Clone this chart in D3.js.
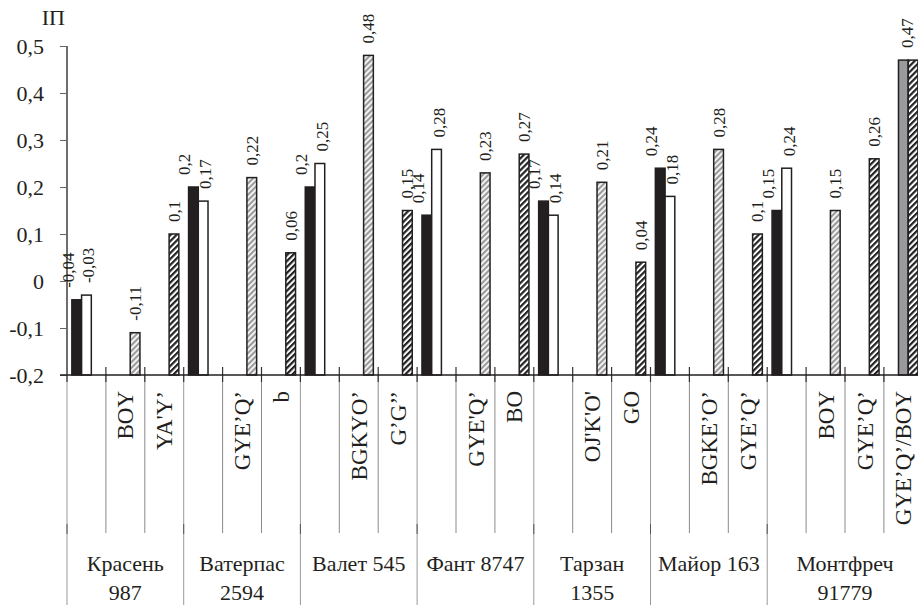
<!DOCTYPE html>
<html><head><meta charset="utf-8">
<script src="https://cdn.jsdelivr.net/npm/d3@7"></script>
<style>
html,body{margin:0;padding:0;background:#fff;}
svg{display:block;}
svg text{font-family:"Liberation Serif","Times New Roman",serif;}
</style></head>
<body>
<svg id="chart" width="918" height="605"></svg>
<script>
// ---- data ----
const groupNames = [["Красень","987"],["Ватерпас","2594"],["Валет 545"],["Фант 8747"],["Тарзан","1355"],["Майор 163"],["Монтфреч","91779"]];
const slotLabels = [
  ["", "BOY", "YA'Y’"],
  ["", "GYE’Q’", "b"],
  ["", "BGKYO’", "G’G’’"],
  ["", "GYE'Q’", "BO"],
  ["", "OJ'K'O'", "GO"],
  ["", "BGKE’O’", "GYE’Q’"],
  ["", "BOY", "GYE’Q’", "GYE’Q’/BOY"]
];
const blackValues = [-0.04, 0.2, 0.2, 0.14, 0.17, 0.24, 0.15];
const whiteValues = [-0.03, 0.17, 0.25, 0.28, 0.14, 0.18, 0.24];
const lightHatchValues = [-0.11, 0.22, 0.48, 0.23, 0.21, 0.28, 0.15];
const darkHatchValues = [0.1, 0.06, 0.15, 0.27, 0.04, 0.1, 0.26];
const extraGrayValues = [0.47];
const extraDarkValues = [0.47];
const yTicks = [-0.2, -0.1, 0, 0.1, 0.2, 0.3, 0.4, 0.5];
const yLabel = "ІП";

(function () {
const FONT = "'Liberation Serif','Times New Roman',serif";
// ---- build slots and bars ----
const slots = [];
slotLabels.forEach((labs, g) => labs.forEach((l, s) => slots.push({id: g + "-" + s, g, s, label: l})));
const bars = [];
groupNames.forEach((_, g) => {
  bars.push({slot: g + "-0", pos: 0, v: blackValues[g], style: "black", lab: true, dx: -9});
  bars.push({slot: g + "-0", pos: 1, v: whiteValues[g], style: "white", lab: true, dx: 2});
  bars.push({slot: g + "-1", pos: 2, v: lightHatchValues[g], style: "light", lab: true, dx: 0});
  bars.push({slot: g + "-2", pos: 2, v: darkHatchValues[g], style: "dark", lab: true, dx: 0});
});
bars.push({slot: "6-3", pos: 1, v: extraGrayValues[0], style: "gray", lab: false, dx: 0});
bars.push({slot: "6-3", pos: 2, v: extraDarkValues[0], style: "dark", lab: true, dx: -6});

// ---- layout ----
const svg = d3.select("#chart");
const left = 67, slotW = 38.9;
const plotTop = 46, plotBottom = 375;
const x = d3.scaleBand().domain(slots.map(d => d.id)).range([left, left + slots.length * slotW]).padding(0);
const inner = d3.scaleBand().domain([0, 1, 2]).range([0, x.bandwidth()]).paddingInner(0).paddingOuter(0.5);
const y = d3.scaleLinear().domain([-0.2, 0.5]).range([plotBottom, plotTop]);
const fmt = v => String(v).replace(".", ",");

// patterns
const defs = svg.append("defs");
const p1 = defs.append("pattern").attr("id", "light").attr("patternUnits", "userSpaceOnUse")
  .attr("width", 4).attr("height", 4).attr("patternTransform", "rotate(45)");
p1.append("rect").attr("width", 4).attr("height", 4).attr("fill", "#f2f2f2");
p1.append("rect").attr("width", 2).attr("height", 4).attr("fill", "#9a9a9a");
const p2 = defs.append("pattern").attr("id", "dark").attr("patternUnits", "userSpaceOnUse")
  .attr("width", 4.2).attr("height", 4).attr("patternTransform", "rotate(45)");
p2.append("rect").attr("width", 4.2).attr("height", 4).attr("fill", "#fff");
p2.append("rect").attr("width", 2.2).attr("height", 4).attr("fill", "#222");

const fills = {black: "#231f20", white: "#fff", light: "url(#light)", dark: "url(#dark)", gray: "#9a9a9c"};

// bottom table lines
const boundaries = slots.map(d => ({x: x(d.id), group: d.s === 0}));
svg.append("g").selectAll("line").data(boundaries).join("line")
  .attr("x1", d => d.x).attr("x2", d => d.x)
  .attr("y1", plotBottom).attr("y2", d => d.group ? 605 : 533)
  .attr("stroke", d => d.group ? "#9a9a9a" : "#8a8a8a").attr("stroke-width", 1);
svg.append("g").selectAll("line").data(boundaries.filter(d => d.group)).join("line")
  .attr("x1", d => d.x).attr("x2", d => d.x).attr("y1", 524).attr("y2", 534)
  .attr("stroke", "#555").attr("stroke-width", 1);
// ticks crossing x axis
svg.append("g").selectAll("line").data(boundaries.slice(1).concat([{x: left + slots.length * slotW}])).join("line")
  .attr("x1", d => d.x).attr("x2", d => d.x).attr("y1", plotBottom - 8).attr("y2", plotBottom + 7)
  .attr("stroke", "#333").attr("stroke-width", 1.2);
svg.append("line").attr("x1", left).attr("x2", left).attr("y1", plotBottom).attr("y2", plotBottom + 7)
  .attr("stroke", "#333").attr("stroke-width", 1.2);

// bars
svg.append("g").selectAll("rect").data(bars).join("rect")
  .attr("x", d => x(d.slot) + inner(d.pos))
  .attr("width", inner.bandwidth())
  .attr("y", d => y(d.v))
  .attr("height", d => y(-0.2) - y(d.v))
  .attr("fill", d => fills[d.style])
  .attr("stroke", "#231f20").attr("stroke-width", 1.5);

// value labels
svg.append("g").selectAll("text").data(bars.filter(d => d.lab)).join("text")
  .attr("transform", d => `translate(${x(d.slot) + inner(d.pos) + inner.bandwidth() / 2 + d.dx},${y(d.v) - 12}) rotate(-90)`)
  .attr("dy", "0.35em").attr("font-family", FONT)
  .attr("font-size", 17).attr("fill", "#231f20")
  .text(d => fmt(d.v));

// y axis
const yAxis = svg.append("g").attr("transform", `translate(${left},0)`)
  .call(d3.axisLeft(y).tickValues(yTicks).tickSize(7).tickPadding(16).tickFormat(fmt));
yAxis.attr("font-family", FONT);
yAxis.select(".domain").attr("stroke", "#231f20").attr("stroke-width", 1.3).attr("d", `M0,${plotTop}V${plotBottom}`);
yAxis.selectAll(".tick line").attr("stroke", "#666");
yAxis.selectAll(".tick text").attr("font-size", 22).attr("fill", "#231f20").attr("font-family", FONT);

// x axis line
svg.append("line").attr("x1", left - 7).attr("x2", 918).attr("y1", plotBottom).attr("y2", plotBottom)
  .attr("stroke", "#231f20").attr("stroke-width", 1.3);

// y label
svg.append("text").attr("x", 65).attr("y", 25).attr("text-anchor", "end").attr("font-family", FONT)
  .attr("font-size", 22).attr("fill", "#231f20").text(yLabel);

// sub-category labels (rotated)
svg.append("g").selectAll("text").data(slots.filter(d => d.label)).join("text")
  .attr("transform", d => `translate(${x(d.id) + x.bandwidth() / 2},391) rotate(-90)`)
  .attr("text-anchor", "end").attr("dy", "0.35em").attr("font-family", FONT)
  .attr("font-size", 23).attr("fill", "#231f20")
  .text(d => d.label);

// group labels
const groupSpans = groupNames.map((n, g) => {
  const ss = slots.filter(d => d.g === g);
  return {lines: n, cx: (x(ss[0].id) + x(ss[ss.length - 1].id) + x.bandwidth()) / 2};
});
const gl = svg.append("g").selectAll("text").data(groupSpans).join("text")
  .attr("text-anchor", "middle").attr("font-size", 22).attr("fill", "#231f20").attr("font-family", FONT);
gl.selectAll("tspan").data(d => d.lines.map((l, i) => ({l, i, cx: d.cx}))).join("tspan")
  .attr("x", d => d.cx).attr("y", d => 571 + d.i * 29).text(d => d.l);
})();
</script>
</body></html>
